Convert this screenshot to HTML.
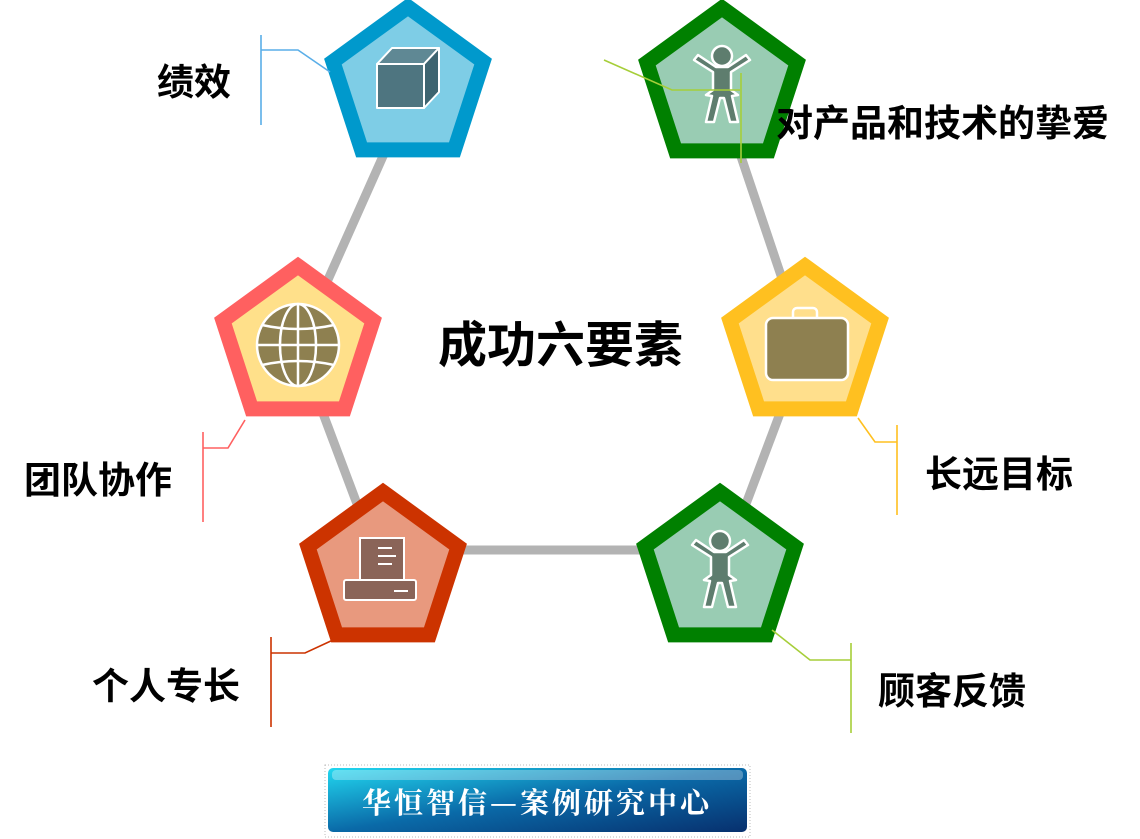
<!DOCTYPE html>
<html><head><meta charset="utf-8"><style>
html,body{margin:0;padding:0;background:#fff;width:1140px;height:839px;overflow:hidden}
.t{position:absolute;font-family:"Liberation Sans","Noto Sans CJK SC",sans-serif;font-weight:bold;color:#000;white-space:nowrap}
</style></head><body>
<svg width="1140" height="839" style="position:absolute;left:0;top:0">
<defs>
<polygon id="p" points="0,-79 75.1,-24.4 46.4,63.9 -46.4,63.9 -75.1,-24.4"/>
<linearGradient id="bn" x1="0" y1="0" x2="1" y2="1">
<stop offset="0" stop-color="#22d8f0"/><stop offset="0.5" stop-color="#0a6aa8"/><stop offset="1" stop-color="#07306e"/></linearGradient>
</defs>
<g stroke="#b3b3b3" stroke-width="9" fill="none">
<line x1="408" y1="100" x2="298" y2="347"/>
<line x1="722" y1="100" x2="805" y2="347"/>
<line x1="298" y1="347" x2="383" y2="573"/>
<line x1="805" y1="347" x2="720" y2="573"/>
<line x1="383" y1="550" x2="720" y2="550"/>
</g>
<g stroke-width="15" stroke-linejoin="miter">
<use href="#p" transform="translate(408,86)" fill="#7ecde6" stroke="#0099cc"/>
<use href="#p" transform="translate(722,87)" fill="#99ccb3" stroke="#008000"/>
<use href="#p" transform="translate(298,345)" fill="#ffe08a" stroke="#ff6060"/>
<use href="#p" transform="translate(805,345)" fill="#ffdf8c" stroke="#ffc020"/>
<use href="#p" transform="translate(383,571)" fill="#e8997e" stroke="#cc3300"/>
<use href="#p" transform="translate(720,571)" fill="#99ccb3" stroke="#008000"/>
</g>
<g stroke="#fff" stroke-width="2" stroke-linejoin="round">
<polygon points="377,64 424,64 424,108 377,108" fill="#4e7580"/>
<polygon points="377,64 392,48 439,48 424,64" fill="#5f8894"/>
<polygon points="424,64 439,48 439,92 424,108" fill="#3e6470"/>
</g>
<g id="person" fill="#5e7d6e" stroke="#fff" stroke-width="2.5" stroke-linejoin="round">
<circle cx="722" cy="56" r="10"/>
<path d="M694,60 L713,72 L713,90 L706,95 L712,96 L706,122 L714,122 L720,98 L724,98 L730,122 L738,122 L732,96 L738,95 L731,90 L731,72 L750,60 L746,55 L728,67 L716,67 L698,55 Z"/>
</g>
<use href="#person" transform="translate(-2,485)"/>
<g stroke="#fff" stroke-width="2.5" fill="none">
<circle cx="298" cy="345" r="41" fill="#8e8050"/>
<ellipse cx="298" cy="345" rx="18" ry="41"/>
<line x1="298" y1="304" x2="298" y2="386"/>
<line x1="257" y1="345" x2="339" y2="345"/>
<path d="M262,325 Q298,333 334,325 M262,365 Q298,357 334,365"/>
</g>
<g stroke="#fff" stroke-width="2.5">
<rect x="793" y="308" width="24" height="14" rx="4" fill="none"/>
<rect x="766" y="318" width="82" height="62" rx="7" fill="#8e8050"/>
</g>
<g stroke="#fff" stroke-width="2" fill="#8a6458">
<rect x="360" y="538" width="44" height="44"/>
<rect x="344" y="580" width="72" height="20" rx="2"/>
<line x1="378" y1="548" x2="392" y2="548"/><line x1="378" y1="556" x2="396" y2="556"/><line x1="378" y1="564" x2="392" y2="564"/>
<line x1="394" y1="591" x2="408" y2="591"/>
</g>
<g fill="none" stroke-width="1.6">
<path d="M261,35 V125 M261,50 H298 L330,72" stroke="#5aaee8"/>
<path d="M604,60 L672,90 H740 M741,73 V163" stroke="#a6ce39"/>
<path d="M203,432 V522 M203,448 H228 L245,420" stroke="#ff6060"/>
<path d="M271,637 V727 M271,653 H305 L333,640" stroke="#cc3300"/>
<path d="M897,425 V515 M897,442 H875 L858,418" stroke="#ffc020"/>
<path d="M851,643 V733 M851,660 H810 L772,630" stroke="#a6ce39"/>
</g>
<rect x="325" y="765" width="425" height="72" fill="none" stroke="#bbb" stroke-dasharray="1,2"/>
<rect x="328" y="768" width="419" height="64" rx="5" fill="url(#bn)"/>
<rect x="332" y="770" width="411" height="10" rx="4" fill="#fff" opacity="0.3"/>
<text x="537" y="813" text-anchor="middle" fill="#fff" font-family="'Noto Serif CJK SC',serif" font-weight="bold" font-size="29" letter-spacing="3">华恒智信—案例研究中心</text>
</svg>
<div class="t" style="left:157px;top:52px;font-size:37px">绩效</div>
<div class="t" style="left:776px;top:93px;font-size:37px">对产品和技术的挚爱</div>
<div class="t" style="left:438px;top:306px;font-size:49px">成功六要素</div>
<div class="t" style="left:925px;top:444px;font-size:37px">长远目标</div>
<div class="t" style="left:24px;top:450px;font-size:37px">团队协作</div>
<div class="t" style="left:92px;top:656px;font-size:37px">个人专长</div>
<div class="t" style="left:878px;top:661px;font-size:37px">顾客反馈</div>
</body></html>
